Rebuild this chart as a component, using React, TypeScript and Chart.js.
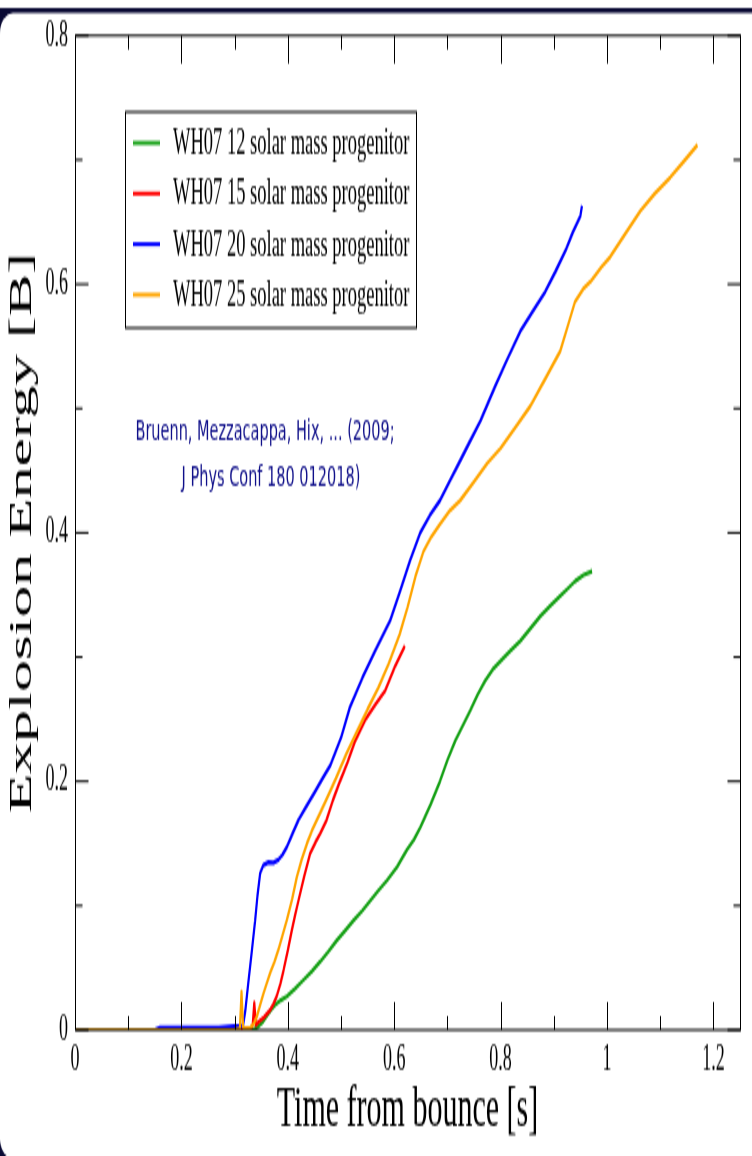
import { useEffect, useRef } from 'react';
import { Chart, registerables } from 'chart.js';

Chart.register(...registerables);

// Explosion energy (Bethe) versus time after core bounce for four WH07 progenitors.
const timeWH12 = [0, 0.1, 0.2, 0.3, 0.335, 0.345, 0.352, 0.36, 0.368, 0.376, 0.387, 0.398, 0.413, 0.429, 0.445, 0.461, 0.476, 0.492, 0.508, 0.5235, 0.54, 0.555, 0.57, 0.586, 0.605, 0.624, 0.637, 0.649, 0.668, 0.686, 0.7, 0.715, 0.729, 0.743, 0.757, 0.771, 0.785, 0.8, 0.818, 0.837, 0.856, 0.875, 0.893, 0.912, 0.926, 0.94, 0.956, 0.972];
const energyWH12 = [0, 0, 0, 0, 0, 0.003, 0.006, 0.011, 0.016, 0.02, 0.024, 0.027, 0.033, 0.04, 0.047, 0.055, 0.063, 0.072, 0.08, 0.088, 0.096, 0.104, 0.112, 0.12, 0.131, 0.145, 0.153, 0.163, 0.181, 0.2, 0.217, 0.233, 0.245, 0.257, 0.27, 0.281, 0.29, 0.297, 0.305, 0.313, 0.323, 0.333, 0.341, 0.349, 0.355, 0.361, 0.366, 0.369];

const timeWH15 = [0, 0.1, 0.2, 0.3, 0.33, 0.334, 0.337, 0.34, 0.344, 0.355, 0.367, 0.373, 0.379, 0.386, 0.392, 0.4, 0.4075, 0.414, 0.42, 0.431, 0.442, 0.452, 0.461, 0.473, 0.485, 0.498, 0.512, 0.527, 0.545, 0.565, 0.583, 0.602, 0.62];
const energyWH15 = [0, 0, 0, 0, 0.001, 0.004, 0.022, 0.004, 0.006, 0.01, 0.016, 0.021, 0.027, 0.037, 0.048, 0.064, 0.08, 0.093, 0.104, 0.124, 0.142, 0.151, 0.158, 0.169, 0.185, 0.2, 0.215, 0.233, 0.249, 0.262, 0.273, 0.293, 0.309];

const timeWH20 = [0, 0.1, 0.15, 0.16, 0.2, 0.27, 0.3, 0.31, 0.316, 0.32, 0.325, 0.332, 0.3386, 0.343, 0.348, 0.354, 0.3636, 0.373, 0.3824, 0.39, 0.398, 0.409, 0.42, 0.435, 0.45, 0.465, 0.48, 0.5, 0.517, 0.54, 0.564, 0.578, 0.592, 0.611, 0.63, 0.649, 0.667, 0.686, 0.705, 0.724, 0.743, 0.762, 0.776, 0.79, 0.813, 0.837, 0.86, 0.884, 0.903, 0.922, 0.936, 0.95, 0.953];
const energyWH20 = [0, 0, 0, 0.002, 0.002, 0.002, 0.003, 0.003, 0.004, 0.015, 0.035, 0.062, 0.088, 0.108, 0.126, 0.1325, 0.135, 0.1345, 0.137, 0.141, 0.147, 0.158, 0.169, 0.18, 0.191, 0.202, 0.213, 0.235, 0.26, 0.283, 0.305, 0.317, 0.329, 0.353, 0.378, 0.4, 0.414, 0.426, 0.442, 0.458, 0.474, 0.49, 0.504, 0.518, 0.54, 0.562, 0.578, 0.594, 0.61, 0.627, 0.642, 0.655, 0.663];

const timeWH25 = [0, 0.1, 0.2, 0.3, 0.31, 0.313, 0.316, 0.32, 0.33, 0.336, 0.342, 0.348, 0.354, 0.36, 0.367, 0.375, 0.382, 0.39, 0.398, 0.408, 0.417, 0.426, 0.436, 0.445, 0.4546, 0.47, 0.49, 0.51, 0.53, 0.55, 0.57, 0.59, 0.61, 0.625, 0.64, 0.655, 0.67, 0.686, 0.705, 0.724, 0.75, 0.775, 0.8, 0.83, 0.856, 0.884, 0.912, 0.926, 0.94, 0.955, 0.969, 0.99, 1.006, 1.035, 1.063, 1.09, 1.119, 1.145, 1.17];
const energyWH25 = [0, 0, 0, 0, 0.001, 0.031, 0.002, 0.001, 0.002, 0.005, 0.011, 0.02, 0.029, 0.037, 0.046, 0.055, 0.064, 0.076, 0.088, 0.105, 0.123, 0.137, 0.15, 0.16, 0.169, 0.183, 0.202, 0.222, 0.24, 0.258, 0.275, 0.295, 0.318, 0.34, 0.365, 0.385, 0.397, 0.407, 0.418, 0.426, 0.441, 0.456, 0.468, 0.486, 0.502, 0.524, 0.546, 0.566, 0.586, 0.596, 0.602, 0.614, 0.622, 0.641, 0.659, 0.673, 0.686, 0.699, 0.712];

const seriesLabels = [
  'WH07 12 solar mass progenitor',
  'WH07 15 solar mass progenitor',
  'WH07 20 solar mass progenitor',
  'WH07 25 solar mass progenitor',
];
const seriesColors = ['#14a014', '#ff0000', '#0000ff', '#ffa500'];

const xTickValues = [0, 0.2, 0.4, 0.6, 0.8, 1.0, 1.2];
const xTickLabels = ['0', '0.2', '0.4', '0.6', '0.8', '1', '1.2'];
const xMinorTicks = [0.1, 0.3, 0.5, 0.7, 0.9, 1.1];
const yTickValues = [0, 0.2, 0.4, 0.6, 0.8];
const yTickLabels = ['0', '0.2', '0.4', '0.6', '0.8'];
const yMinorTicks = [0.1, 0.3, 0.5, 0.7];

const citationLines = ['Bruenn, Mezzacappa, Hix, ... (2009;', 'J Phys Conf 180 012018)'];

// The canvas is drawn at half height and shown stretched 2x vertically.
const CANVAS_W = 752;
const CANVAS_H = 578;
const SERIF = '"Liberation Serif", "Times New Roman", serif';
const NAVY = '#0a0a34';

const pairs = (xs: number[], ys: number[]) => xs.map((x, i) => ({ x, y: ys[i] }));

const panelPlugin = {
  id: 'panel',
  beforeDraw(chart: any) {
    const ctx = chart.ctx as CanvasRenderingContext2D;
    ctx.save();
    ctx.fillStyle = '#ffffff';
    ctx.fillRect(0, 0, CANVAS_W, CANVAS_H);
    ctx.fillStyle = NAVY;
    ctx.fillRect(0, 4, CANVAS_W, CANVAS_H - 4);
    const L = 0, T = 6.5, R = 765, B = 579.2, rx = 13, ry = 10;
    ctx.fillStyle = '#ffffff';
    ctx.beginPath();
    ctx.moveTo(L + rx, T);
    ctx.lineTo(R - rx, T);
    ctx.ellipse(R - rx, T + ry, rx, ry, 0, -Math.PI / 2, 0);
    ctx.lineTo(R, B - ry);
    ctx.ellipse(R - rx, B - ry, rx, ry, 0, 0, Math.PI / 2);
    ctx.lineTo(L + rx, B);
    ctx.ellipse(L + rx, B - ry, rx, ry, 0, Math.PI / 2, Math.PI);
    ctx.lineTo(L, T + ry);
    ctx.ellipse(L + rx, T + ry, rx, ry, 0, Math.PI, Math.PI * 1.5);
    ctx.closePath();
    ctx.fill();
    ctx.restore();
  },
};

const decorPlugin = {
  id: 'decor',
  afterDatasetsDraw(chart: any) {
    const ctx = chart.ctx as CanvasRenderingContext2D;
    const xs = chart.scales.x;
    const ys = chart.scales.y;
    const { left, right, top, bottom } = chart.chartArea;
    const lx = Math.round(left) + 0.5;
    const rxp = Math.round(right) + 0.5;
    ctx.save();

    // frame
    ctx.strokeStyle = '#000';
    ctx.lineWidth = 1;
    ctx.strokeRect(lx, top, rxp - lx, bottom - top);

    // inward tick marks on all four sides
    const MAJOR_V = 14, MINOR_V = 7, MAJOR_H = 13, MINOR_H = 7;
    ctx.beginPath();
    const xMark = (v: number, len: number) => {
      const px = Math.round(xs.getPixelForValue(v)) + 0.5;
      ctx.moveTo(px, bottom); ctx.lineTo(px, bottom - len);
      ctx.moveTo(px, top); ctx.lineTo(px, top + len);
    };
    const yMark = (v: number, len: number) => {
      const py = ys.getPixelForValue(v);
      ctx.moveTo(lx, py); ctx.lineTo(lx + len, py);
      ctx.moveTo(rxp, py); ctx.lineTo(rxp - len, py);
    };
    xTickValues.forEach((v) => xMark(v, MAJOR_V));
    xMinorTicks.forEach((v) => xMark(v, MINOR_V));
    yTickValues.forEach((v) => yMark(v, MAJOR_H));
    yMinorTicks.forEach((v) => yMark(v, MINOR_H));
    ctx.stroke();

    // legend box
    ctx.strokeRect(125.5, 56, 291, 108);
    ctx.font = `18.5px ${SERIF}`;
    ctx.textAlign = 'left';
    ctx.textBaseline = 'alphabetic';
    chart.data.datasets.forEach((ds: any, i: number) => {
      const rowY = 71.5 + i * 25.3;
      ctx.strokeStyle = ds.borderColor;
      ctx.lineWidth = 2;
      ctx.beginPath();
      ctx.moveTo(133, rowY);
      ctx.lineTo(160, rowY);
      ctx.stroke();
      ctx.fillStyle = '#000';
      ctx.fillText(ds.label, 173, rowY + 5.5);
    });

    // citation note
    ctx.fillStyle = '#10108a';
    ctx.font = '14.5px "DejaVu Sans", sans-serif';
    ctx.textAlign = 'center';
    ctx.fillText(citationLines[0], 265, 220);
    ctx.fillText(citationLines[1], 271, 242.5);
    ctx.restore();
  },
};

export default function App() {
  const canvasRef = useRef<HTMLCanvasElement | null>(null);

  useEffect(() => {
    document.body.style.margin = '0';
    const canvas = canvasRef.current;
    if (!canvas) return;

    const series = [
      pairs(timeWH12, energyWH12),
      pairs(timeWH15, energyWH15),
      pairs(timeWH20, energyWH20),
      pairs(timeWH25, energyWH25),
    ];

    const chart = new Chart(canvas, {
      type: 'line',
      data: {
        datasets: series.map((data, i) => ({
          label: seriesLabels[i],
          data,
          borderColor: seriesColors[i],
          backgroundColor: seriesColors[i],
          borderWidth: 2.2,
          pointRadius: 0,
          tension: 0,
          fill: false,
          borderJoinStyle: 'round' as const,
          order: 4 - i,
        })),
      },
      options: {
        animation: false,
        responsive: false,
        devicePixelRatio: 1,
        events: [],
        layout: { padding: { left: 0, right: 12, top: 17, bottom: 0 } },
        plugins: { legend: { display: false }, tooltip: { enabled: false } },
        scales: {
          x: {
            type: 'linear',
            min: 0,
            max: 1.25,
            afterBuildTicks: (s: any) => {
              s.ticks = xTickValues.map((value) => ({ value }));
            },
            afterFit: (s: any) => {
              s.height = 63;
            },
            grid: { display: false, drawTicks: false },
            border: { display: false },
            ticks: {
              autoSkip: false,
              maxRotation: 0,
              padding: 4,
              color: '#000',
              font: { family: SERIF, size: 18 },
              callback: (_v: any, i: number) => xTickLabels[i],
            },
            title: {
              display: true,
              text: 'Time from bounce [s]',
              color: '#000',
              font: { family: SERIF, size: 30 },
              padding: { top: 0, bottom: 5 },
            },
          },
          y: {
            type: 'linear',
            min: 0,
            max: 0.8,
            afterBuildTicks: (s: any) => {
              s.ticks = yTickValues.map((value) => ({ value }));
            },
            afterFit: (s: any) => {
              s.width = 75;
            },
            grid: { display: false, drawTicks: false },
            border: { display: false },
            ticks: {
              autoSkip: false,
              padding: 7,
              color: '#000',
              font: { family: SERIF, size: 18 },
              callback: (_v: any, i: number) => yTickLabels[i],
            },
            title: {
              display: true,
              text: 'Explosion Energy [B]',
              color: '#000',
              font: { family: SERIF, size: 32 },
              padding: { top: 3, bottom: 0 },
            },
          },
        },
      },
      plugins: [panelPlugin, decorPlugin],
    });

    return () => chart.destroy();
  }, []);

  return (
    <canvas
      ref={canvasRef}
      width={CANVAS_W}
      height={CANVAS_H}
      style={{ display: 'block', width: `${CANVAS_W}px`, height: `${CANVAS_H * 2}px` }}
    />
  );
}
